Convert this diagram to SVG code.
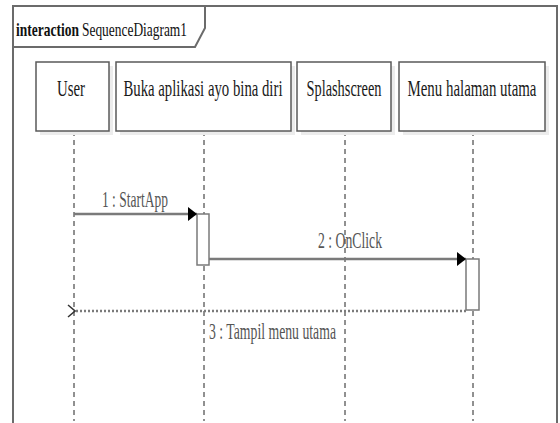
<svg xmlns="http://www.w3.org/2000/svg" width="560" height="423" viewBox="0 0 560 423">
<defs>
<style>
.frame{fill:none;stroke:#6b6b6b;stroke-width:2}
.box{fill:#fff;stroke:#5a5a5a;stroke-width:1.5}
.shadow{fill:#ececec}
.life{stroke:#222;stroke-width:1;stroke-dasharray:5 4}
.msg{stroke:#7a7a7a;stroke-width:2.5;fill:none}
.ret{stroke:#7a7a7a;stroke-width:2.5;fill:none;stroke-dasharray:2 2}
.act{fill:#fff;stroke:#7a7a7a;stroke-width:1.5}
.t{font-family:"Liberation Serif",serif;font-size:24px;fill:#1a1a1a}
.m{font-family:"Liberation Serif",serif;font-size:23px;fill:#555}
</style>
<marker id="filled" markerWidth="10" markerHeight="14" refX="9" refY="7" orient="auto" markerUnits="userSpaceOnUse">
<path d="M0,0 L9,7 L0,14 z" fill="#000"/>
</marker>
<marker id="open" markerWidth="10" markerHeight="14" refX="1" refY="7" orient="auto" markerUnits="userSpaceOnUse">
<path d="M8,1 L1,7 L8,13" fill="none" stroke="#333" stroke-width="1.5"/>
</marker>
</defs>
<rect width="560" height="423" fill="#fff"/>
<g id="frame">
<path class="frame" d="M13,425 L13,6 L557,6 L557,425"/>
<path class="frame" d="M13,47 L195,47 L205,28 L205,6"/>
<text transform="scale(0.7,1)" x="22.86" y="36" font-family="Liberation Serif,serif" font-size="19" fill="#111"><tspan font-weight="bold" textLength="90" lengthAdjust="spacingAndGlyphs">interaction</tspan><tspan dx="4.3" textLength="150" lengthAdjust="spacingAndGlyphs">SequenceDiagram1</tspan></text>
</g>
<g id="lifelines">
<line class="life" x1="74" y1="131" x2="74" y2="421"/>
<line class="life" x1="204" y1="131" x2="204" y2="421"/>
<line class="life" x1="345" y1="131" x2="345" y2="421"/>
<line class="life" x1="473" y1="131" x2="473" y2="421"/>
</g>
<g id="node-user">
<rect class="shadow" x="40" y="66" width="73" height="69"/>
<rect class="box" x="36" y="62" width="73" height="69"/>
<text class="t" transform="scale(0.6,1)" x="118.33" y="96" text-anchor="middle" textLength="46.67" lengthAdjust="spacingAndGlyphs">User</text>
</g>
<g id="node-buka">
<rect class="shadow" x="120" y="66" width="175" height="69"/>
<rect class="box" x="116" y="62" width="175" height="69"/>
<text class="t" transform="scale(0.6,1)" x="338.33" y="96" text-anchor="middle" textLength="265" lengthAdjust="spacingAndGlyphs">Buka aplikasi ayo bina diri</text>
</g>
<g id="node-splash">
<rect class="shadow" x="301" y="66" width="94" height="69"/>
<rect class="box" x="297" y="62" width="94" height="69"/>
<text class="t" transform="scale(0.6,1)" x="573.33" y="96" text-anchor="middle" textLength="125" lengthAdjust="spacingAndGlyphs">Splashscreen</text>
</g>
<g id="node-menu">
<rect class="shadow" x="403" y="66" width="146" height="69"/>
<rect class="box" x="399" y="62" width="146" height="69"/>
<text class="t" transform="scale(0.6,1)" x="786.67" y="96" text-anchor="middle" textLength="215" lengthAdjust="spacingAndGlyphs">Menu halaman utama</text>
</g>
<g id="activations">
<rect class="act" x="197" y="214" width="12" height="51"/>
<rect class="act" x="466" y="259" width="13" height="51"/>
</g>
<g id="connectors">
<line class="msg" x1="74" y1="214" x2="197" y2="214" marker-end="url(#filled)"/>
<text class="m" transform="scale(0.6,1)" x="170" y="207" textLength="110" lengthAdjust="spacingAndGlyphs">1 : StartApp</text>
<line class="msg" x1="209" y1="259" x2="466" y2="259" marker-end="url(#filled)"/>
<text class="m" transform="scale(0.6,1)" x="530" y="248" textLength="106.67" lengthAdjust="spacingAndGlyphs">2 : OnClick</text>
<line class="ret" x1="466" y1="311" x2="75" y2="311" marker-end="url(#open)"/>
<text class="m" transform="scale(0.6,1)" x="348.33" y="339" textLength="211.67" lengthAdjust="spacingAndGlyphs">3 : Tampil menu utama</text>
</g>
</svg>
